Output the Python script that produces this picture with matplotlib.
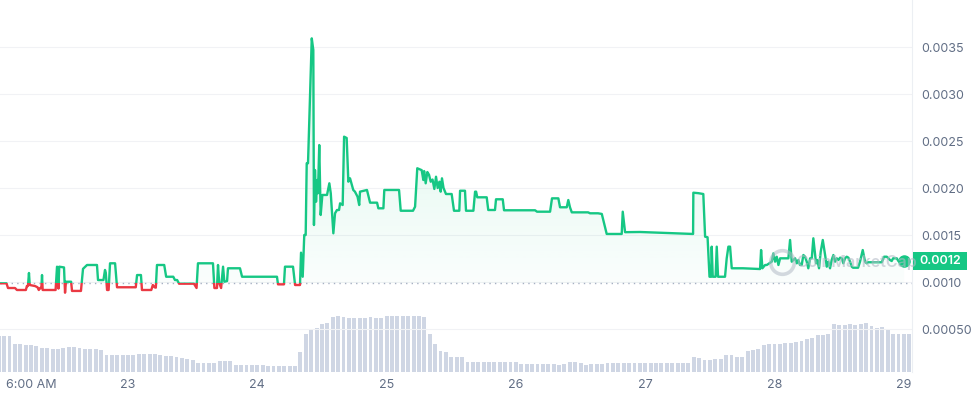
import numpy as np
import matplotlib.pyplot as plt
from matplotlib.colors import to_rgb
from matplotlib.lines import Line2D
from matplotlib.patches import Rectangle
from matplotlib.path import Path
from matplotlib.transforms import blended_transform_factory

# price history (time = days since Feb 22 00:00, price in USD)
days = [
    0.010, 0.060, 0.072, 0.126, 0.141, 0.210, 0.218, 0.226, 0.234, 0.240,
    0.281, 0.300, 0.310, 0.320, 0.330, 0.335, 0.340, 0.440, 0.451, 0.458,
    0.462, 0.468, 0.505, 0.513, 0.520, 0.560, 0.567, 0.636, 0.652, 0.683,
    0.760, 0.768, 0.810, 0.822, 0.828, 0.838, 0.850, 0.861, 0.900, 0.915,
    1.060, 1.070, 1.100, 1.108, 1.180, 1.192, 1.205, 1.215, 1.224, 1.280,
    1.295, 1.350, 1.363, 1.380, 1.395, 1.510, 1.530, 1.541, 1.657, 1.668,
    1.688, 1.696, 1.705, 1.720, 1.735, 1.745, 1.766, 1.773, 1.866, 1.882,
    2.152, 2.160, 2.206, 2.214, 2.276, 2.292, 2.330,
    2.338, 2.351, 2.363, 2.374, 2.382, 2.392, 2.421, 2.433, 2.438, 2.446,
    2.454, 2.464, 2.469, 2.479, 2.490, 2.503, 2.539, 2.557, 2.568, 2.588,
    2.601, 2.616, 2.632, 2.640, 2.660, 2.671, 2.691, 2.704, 2.717, 2.742,
    2.755, 2.775, 2.788, 2.794, 2.848, 2.872, 2.926, 2.936, 2.975, 2.982,
    3.096, 3.109, 3.204, 3.220, 3.237, 3.271, 3.284, 3.290, 3.302, 3.315,
    3.328, 3.341, 3.355, 3.369, 3.382, 3.395, 3.408, 3.418, 3.428, 3.440,
    3.459, 3.503, 3.521, 3.562, 3.568, 3.606, 3.614, 3.671, 3.684, 3.692,
    3.701, 3.774, 3.786, 3.838, 3.846, 3.898, 3.908, 4.148, 4.163, 4.264,
    4.279, 4.328, 4.341, 4.393, 4.405, 4.418, 4.432, 4.558, 4.573, 4.635,
    4.664, 4.702, 4.818, 4.826, 4.844, 4.960, 5.370, 5.372, 5.411, 5.449,
    5.463, 5.482, 5.497, 5.509, 5.514, 5.522, 5.544, 5.553, 5.563, 5.617,
    5.630, 5.643, 5.656, 5.669, 5.756, 5.888, 5.896, 5.906, 5.927, 5.940,
    5.978, 5.991, 6.004, 6.017, 6.030, 6.043, 6.107, 6.120, 6.133, 6.145,
    6.159, 6.172, 6.184, 6.197, 6.210, 6.223, 6.236, 6.249, 6.261, 6.275,
    6.288, 6.300, 6.321, 6.331, 6.344, 6.357, 6.373, 6.391, 6.404, 6.416,
    6.429, 6.442, 6.455, 6.468, 6.481, 6.494, 6.507, 6.520, 6.532, 6.545,
    6.558, 6.571, 6.584, 6.597, 6.607, 6.646, 6.661, 6.682, 6.700, 6.713,
    6.723, 6.800, 6.829, 6.847, 6.868, 6.880, 6.893, 6.906, 6.917, 6.945,
    6.958, 6.971, 6.996, 7.002,
]
price = [
    0.000986, 0.000986, 0.000936, 0.000936, 0.000915, 0.000915, 0.000957, 0.000957, 0.001096, 0.000968,
    0.000957, 0.000944, 0.000915, 0.000936, 0.000936, 0.001074, 0.000915, 0.000915, 0.001163, 0.001150,
    0.000930, 0.001163, 0.001155, 0.000886, 0.001003, 0.001003, 0.000905, 0.000905, 0.001140, 0.001181,
    0.001181, 0.001021, 0.001021, 0.001128, 0.001100, 0.000915, 0.000915, 0.001199, 0.001199, 0.000944,
    0.000944, 0.001074, 0.001074, 0.000915, 0.000915, 0.000968, 0.000944, 0.000940, 0.001181, 0.001181,
    0.001056, 0.001056, 0.001021, 0.001021, 0.000982, 0.000982, 0.000936, 0.001199, 0.001199, 0.000936,
    0.000936, 0.001181, 0.000990, 0.000936, 0.001163, 0.001003, 0.001010, 0.001146, 0.001146, 0.001056,
    0.001056, 0.000975, 0.000975, 0.001163, 0.001163, 0.000968, 0.000968,
    0.001312, 0.001056, 0.001500, 0.001500, 0.002263, 0.002263, 0.003592, 0.003468, 0.001606, 0.002191,
    0.001854, 0.002085, 0.001944, 0.002457, 0.001713, 0.001926, 0.001926, 0.002050, 0.001944, 0.001518,
    0.001731, 0.001766, 0.001766, 0.001837, 0.001819, 0.002546, 0.002532, 0.002067, 0.002103, 0.001979,
    0.001961, 0.001908, 0.001819, 0.001961, 0.001979, 0.001844, 0.001844, 0.001784, 0.001784, 0.001979,
    0.001979, 0.001758, 0.001758, 0.001801, 0.002210, 0.002190, 0.002085, 0.002180, 0.002050, 0.002170,
    0.002140, 0.002067, 0.002090, 0.001990, 0.002120, 0.002000, 0.002067, 0.001961, 0.002103, 0.002000,
    0.001936, 0.001936, 0.001758, 0.001758, 0.001971, 0.001971, 0.001758, 0.001758, 0.001961, 0.001961,
    0.001901, 0.001901, 0.001766, 0.001766, 0.001880, 0.001880, 0.001763, 0.001763, 0.001748, 0.001748,
    0.001890, 0.001890, 0.001795, 0.001795, 0.001872, 0.001795, 0.001741, 0.001741, 0.001731, 0.001731,
    0.001724, 0.001511, 0.001511, 0.001748, 0.001530, 0.001532, 0.001511, 0.001950, 0.001945, 0.001936,
    0.001482, 0.001476, 0.001056, 0.001056, 0.001376, 0.001056, 0.001056, 0.001376, 0.001056, 0.001056,
    0.001252, 0.001376, 0.001376, 0.001146, 0.001146, 0.001138, 0.001340, 0.001146, 0.001181, 0.001181,
    0.001216, 0.001305, 0.001216, 0.001269, 0.001181, 0.001252, 0.001252, 0.001447, 0.001216, 0.001234,
    0.001252, 0.001199, 0.001234, 0.001181, 0.001181, 0.001287, 0.001269, 0.001216, 0.001146, 0.001252,
    0.001252, 0.001465, 0.001199, 0.001234, 0.001146, 0.001322, 0.001447, 0.001287, 0.001163, 0.001216,
    0.001146, 0.001234, 0.001287, 0.001216, 0.001252, 0.001234, 0.001259, 0.001252, 0.001199, 0.001252,
    0.001269, 0.001259, 0.001216, 0.001163, 0.001152, 0.001152, 0.001216, 0.001340, 0.001216, 0.001199,
    0.001210, 0.001210, 0.001210, 0.001269, 0.001269, 0.001252, 0.001234, 0.001223, 0.001252, 0.001252,
    0.001223, 0.001210, 0.001210, 0.001223,
]
open_price = 0.00099
last_label = "0.0012"

# hourly volume bars, relative height (first bar = Feb 22 00:00)
volume = [
    36, 36, 36, 28, 28, 27, 27, 26, 24, 24, 23, 23, 24, 25, 25, 24, 23, 23, 23, 22, 17, 17, 17, 17,
    17, 17, 18, 18, 18, 18, 17, 16, 16, 15, 14, 13, 12, 9, 9, 9, 9, 11, 11, 11, 7, 7, 7, 7,
    7, 7, 6, 6, 6, 6, 6, 6, 20, 38, 42, 44, 48, 49, 55, 56, 55, 54, 54, 54, 54, 55, 54, 54,
    56, 56, 56, 56, 56, 56, 56, 55, 38, 28, 21, 20, 15, 15, 15, 10, 10, 10, 10, 10, 10, 10, 10, 10,
    10, 8, 8, 8, 8, 8, 8, 8, 7, 8, 10, 10, 9, 7, 8, 8, 8, 9, 9, 9, 9, 9, 9, 9,
    9, 9, 9, 9, 9, 9, 9, 9, 9, 15, 14, 12, 12, 13, 13, 17, 17, 15, 15, 21, 22, 23, 27, 28,
    28, 28, 29, 29, 30, 31, 33, 34, 37, 37, 38, 48, 47, 47, 48, 47, 48, 49, 46, 44, 45, 43, 38, 38,
    38, 38,
]

xtick_pos = [0.25, 1, 2, 3, 4, 5, 6, 7]
xtick_labels = ["6:00 AM", "23", "24", "25", "26", "27", "28", "29"]
ytick_pos = [0.0005, 0.0010, 0.0015, 0.0020, 0.0025, 0.0030, 0.0035]
ytick_labels = ["0.00050", "0.0010", "0.0015", "0.0020", "0.0025", "0.0030", "0.0035"]

GREEN = "#16c784"
RED = "#ea3943"
TXT = "#616e85"

plt.rcParams["font.family"] = ["Inter", "DejaVu Sans"]

fig = plt.figure(figsize=(9.75, 3.96), dpi=100)
area = [0, 24 / 396, 912 / 975, 372 / 396]
axv = fig.add_axes(area)
ax = fig.add_axes(area, sharex=axv)
ax.set_facecolor("none")

# volume in the back
vol_x = np.arange(len(volume)) / 24
axv.bar(vol_x, volume, width=0.72 / 24, color="#cfd6e4", linewidth=0)
axv.set_ylim(0, 372)
axv.axis("off")

d = np.array(days)
p = np.array(price)

# gradient under the green part
fill = ax.fill_between(d, p, open_price, where=p >= open_price, interpolate=True, color="none")
clip = Path.make_compound_path(*fill.get_paths())
fill.remove()
grad = np.zeros((256, 1, 4))
grad[..., :3] = to_rgb(GREEN)
grad[..., 3] = np.linspace(0.17, 0.02, 256)[:, None]
img = ax.imshow(grad, extent=(d[0], d[-1], open_price, p.max()), aspect="auto",
                origin="upper", zorder=2)
img.set_clip_path(clip, transform=ax.transData)

# line: green above open price, red below
up, = ax.plot(d, p, color=GREEN, lw=1.7, zorder=4, solid_joinstyle="round")
dn, = ax.plot(d, p, color=RED, lw=1.7, zorder=4, solid_joinstyle="round")
up.set_clip_path(Rectangle((-1, open_price), 10, 1, transform=ax.transData))
dn.set_clip_path(Rectangle((-1, -1), 10, 1 + open_price, transform=ax.transData))
ax.axhline(open_price, color="#a6b0c3", lw=1, ls=(0, (1, 3)), zorder=3)
ax.plot(d[-1], p[-1], "o", color=GREEN, ms=8, zorder=5, clip_on=False)

ax.set_xlim(0.01, 7.063)
ax.set_ylim(0.0000426, 0.0040)

ax.set_xticks(xtick_pos)
ax.set_xticklabels(xtick_labels)
ax.set_yticks(ytick_pos)
ax.set_yticklabels(ytick_labels)
ax.yaxis.tick_right()
ax.tick_params(axis="y", length=0, pad=7, labelsize=9, labelcolor=TXT)
ax.tick_params(axis="x", length=0, pad=5, labelsize=9, labelcolor=TXT)
ax.yaxis.grid(True, color="#f1f2f5", lw=0.8)
ax.set_axisbelow(True)
for side in ["top", "left", "bottom"]:
    ax.spines[side].set_visible(False)
ax.spines["right"].set_color("#eceff3")

# current price tag
trans = blended_transform_factory(ax.transAxes, ax.transData)
tag_w = 54 / 912
tag_h = 18 / 94000
ax.add_patch(Rectangle((1.001, p[-1] - tag_h / 2), tag_w, tag_h, transform=trans,
                       facecolor=GREEN, edgecolor="none", clip_on=False, zorder=6))
ax.text(1.001 + tag_w / 2, p[-1], last_label, transform=trans, ha="center", va="center",
        color="white", fontsize=9, fontweight="semibold", zorder=7)

# watermark (kept left of the price tag)
fig.add_artist(Line2D([782 / 975], [1 - 262 / 396], marker="o", ms=17, mfc="none",
                      mec="#b3bac6", mew=2.6, alpha=0.55, zorder=8))
fig.text(796 / 975, 1 - 262 / 396, "CoinMarketCap", ha="left", va="center",
         fontsize=11.5, fontweight="semibold", color="#b3bac6", alpha=0.6, zorder=8)

fig.savefig("out.png", dpi=100)
